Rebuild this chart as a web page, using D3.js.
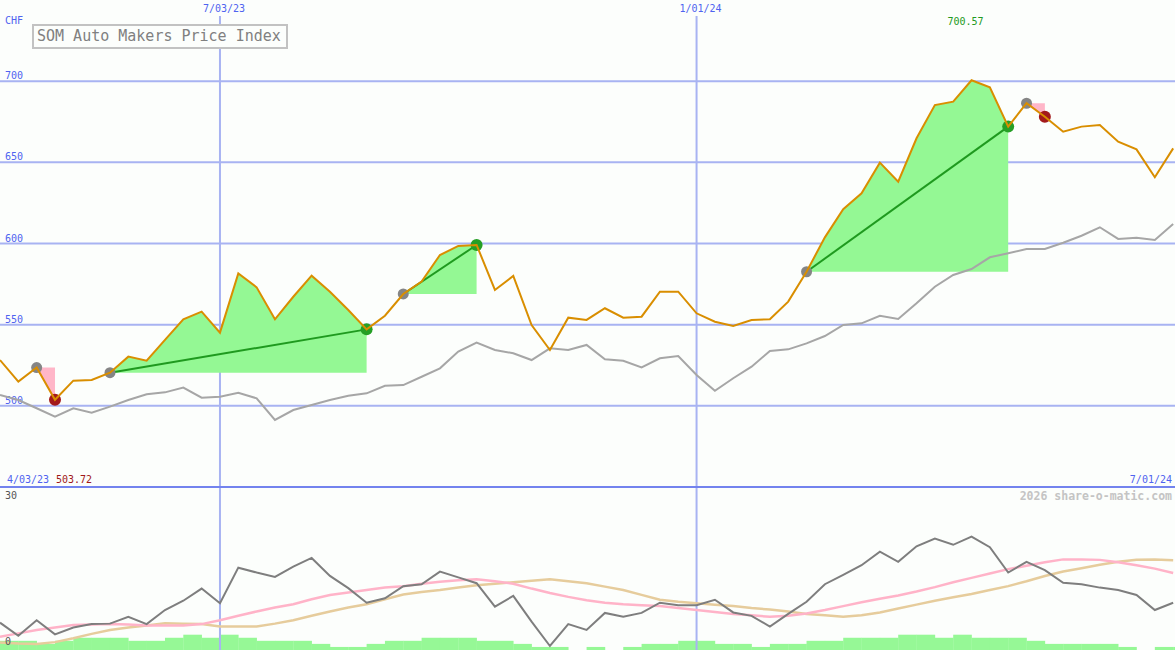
<!DOCTYPE html>
<html>
<head>
<meta charset="utf-8">
<script src="https://cdn.jsdelivr.net/npm/d3@7"></script>
<style>
  html, body { margin: 0; padding: 0; background: #fcfefc; }
  svg { display: block; }
  text { font-family: "DejaVu Sans Mono", "Liberation Mono", monospace; }
</style>
</head>
<body>
<div id="chart"></div>
<script>
// ---------- DATA ----------
const title = "SOM Auto Makers Price Index";
const currency = "CHF";
const startLabel = "4/03/23";
const endLabel = "7/01/24";
const minLabel = "503.72";
const maxLabel = "700.57";
const credit = "2026 share-o-matic.com";

// weekly points (index based)
const price = [528.2, 514.9, 523.6, 503.72, 515.5, 515.9, 520.4, 530.3, 527.8, 540.6,
  553.3, 558.0, 545.1, 581.6, 573.0, 553.3, 567.2, 580.2, 570.3, 559.0,
  547.1, 555.5, 568.9, 576.5, 592.9, 598.5, 599.1, 571.4, 580.0, 549.8,
  534.4, 554.3, 552.9, 560.1, 554.3, 554.9, 570.3, 570.3, 557.0, 551.8,
  549.2, 552.9, 553.3, 564.2, 582.6, 603.8, 621.1, 630.9, 649.8, 638.1,
  664.8, 685.3, 687.4, 700.57, 696.2, 672.0, 686.4, 678.1, 668.9, 672.0,
  673.0, 662.7, 658.0, 640.8, 658.6];

const benchmark = [506.7, 503.6, 498.5, 493.3, 498.5, 495.8, 499.5, 503.6, 507.1, 508.3,
  511.2, 505.0, 505.6, 508.1, 504.6, 491.3, 497.4, 500.5, 503.6, 506.2,
  507.7, 512.4, 512.8, 517.9, 523.1, 533.4, 538.9, 534.4, 532.4, 528.2,
  535.4, 534.4, 537.5, 528.7, 527.8, 523.7, 529.3, 530.7, 519.0, 509.3,
  517.0, 524.1, 533.8, 534.8, 538.5, 543.0, 549.8, 550.8, 555.5, 553.5,
  563.2, 573.4, 580.6, 584.3, 591.5, 594.0, 596.6, 596.6, 600.5, 604.8,
  610.0, 602.8, 603.6, 602.2, 612.0];

const oscillator = [4.9, 2.2, 5.4, 2.5, 3.9, 4.6, 4.7, 6.1, 4.6, 7.5,
  9.4, 11.9, 8.9, 16.2, 15.2, 14.3, 16.4, 18.2, 14.5, 12.0,
  9.0, 9.9, 12.4, 12.8, 15.4, 14.2, 13.0, 8.2, 10.4, 5.1,
  0.1, 4.6, 3.4, 6.9, 6.1, 6.9, 9.0, 8.5, 8.5, 9.6,
  7.0, 6.3, 4.1, 6.7, 9.2, 12.8, 14.7, 16.7, 19.5, 17.4,
  20.6, 22.2, 20.9, 22.6, 20.4, 15.2, 17.4, 15.7, 13.1, 12.8,
  12.1, 11.6, 10.6, 7.5, 9.0];

const oscAvgFast = [2.0, 2.7, 3.4, 3.9, 4.4, 4.5, 4.6, 4.5, 4.3, 4.3,
  4.3, 4.6, 5.4, 6.3, 7.2, 8.0, 8.7, 9.7, 10.6, 11.1,
  11.6, 12.1, 12.4, 12.9, 13.3, 13.6, 13.8, 13.4, 12.9, 11.9,
  11.0, 10.2, 9.5, 9.0, 8.7, 8.5, 8.3, 7.9, 7.5, 7.1,
  6.7, 6.4, 6.1, 6.3, 6.8, 7.5, 8.3, 9.1, 9.8, 10.5,
  11.3, 12.2, 13.2, 14.1, 15.0, 15.9, 16.6, 17.3, 17.9, 17.9,
  17.8, 17.3, 16.7, 16.0, 15.1];

const oscAvgSlow = [0.8, 0.6, 0.5, 0.9, 1.7, 2.6, 3.4, 3.9, 4.3, 4.8,
  4.7, 4.6, 4.1, 4.1, 4.1, 4.7, 5.4, 6.3, 7.2, 8.0,
  8.7, 9.7, 10.7, 11.2, 11.6, 12.1, 12.6, 12.9, 13.2, 13.5,
  13.8, 13.4, 13.0, 12.3, 11.6, 10.6, 9.6, 9.2, 8.9, 8.6,
  8.3, 7.9, 7.6, 7.2, 6.7, 6.4, 6.1, 6.4, 7.0, 7.8,
  8.6, 9.4, 10.1, 10.8, 11.6, 12.4, 13.4, 14.5, 15.4, 16.1,
  16.8, 17.4, 17.8, 17.9, 17.7];

const histogram = [3,3,2,3,4,4,4,3,3,4,
  5,4,5,4,3,3,3,2,1,1,
  2,3,3,4,4,4,3,3,2,1,
  1,0,1,0,1,2,2,3,3,2,
  2,1,2,2,3,3,4,4,4,5,
  5,4,5,4,4,4,3,2,2,2,
  2,1,0,1,1];

// trades: start index, end index, gain?
const tradeStart = [2, 6, 22, 44, 56];
const tradeEnd   = [3, 20, 26, 55, 57];
const tradeGain  = [false, true, true, true, false];

const yTicks = [500, 550, 600, 650, 700];
const xTickIndex = [12, 38];
const xTickLabels = ["7/03/23", "1/01/24"];
const lowTicks = [30, 0];

// ---------- LAYOUT ----------
const W = 1175, H = 650;
const mainBottom = 487;
const maxIdx = price.indexOf(d3.max(price));
const minIdx = price.indexOf(d3.min(price));

const x = d3.scaleLinear().domain([0, 64.1]).range([0, W]);
const y = d3.scaleLinear().domain([450, 750]).range([mainBottom, 0]);
const yLow = d3.scaleLinear().domain([0, 30]).range([646.5, 500.5]);
const yHist = d3.scaleLinear().domain([0, 5]).range([H, H - 15.3]);

const svg = d3.select("#chart").append("svg")
  .attr("width", W).attr("height", H);

svg.append("rect").attr("width", W).attr("height", H).attr("fill", "#fcfefc");

const gridColor = "#a8b3f2";
const axisText = "#4f63f0";

// histogram bars (lowest layer)
svg.append("g").selectAll("rect").data(histogram).join("rect")
  .attr("x", (d, i) => x(i))
  .attr("width", (d, i) => Math.min(x(i + 1), W) - x(i) + 0.3)
  .attr("y", d => yHist(d))
  .attr("height", d => H - yHist(d))
  .attr("fill", "#96f896");

// horizontal grid
svg.append("g").selectAll("line").data(yTicks).join("line")
  .attr("x1", 0).attr("x2", W)
  .attr("y1", d => y(d)).attr("y2", d => y(d))
  .attr("stroke", gridColor).attr("stroke-width", 2);

// vertical grid
svg.append("g").selectAll("line").data(xTickIndex).join("line")
  .attr("x1", d => x(d)).attr("x2", d => x(d))
  .attr("y1", 16).attr("y2", H)
  .attr("stroke", gridColor).attr("stroke-width", 2);

// divider
svg.append("line").attr("x1", 0).attr("x2", W)
  .attr("y1", y(450)).attr("y2", y(450))
  .attr("stroke", "#7383ee").attr("stroke-width", 2);

// y tick labels
svg.append("g").selectAll("text").data(yTicks).join("text")
  .attr("x", 5).attr("y", d => y(d) - 2)
  .attr("font-size", 10).attr("fill", axisText)
  .text(d => d);

svg.append("text").attr("x", 5).attr("y", 24)
  .attr("font-size", 10).attr("fill", axisText).text(currency);

// x tick labels
svg.append("g").selectAll("text").data(xTickIndex).join("text")
  .attr("x", d => x(d) + 4).attr("y", 12)
  .attr("text-anchor", "middle")
  .attr("font-size", 10).attr("fill", axisText)
  .text((d, i) => xTickLabels[i]);

// trade fills
const tradeArea = (s) => d3.area()
  .x(i => x(i))
  .y0(() => y(price[s]))
  .y1(i => y(price[i]));

tradeStart.forEach((s, k) => {
  const e = tradeEnd[k];
  svg.append("path")
    .datum(d3.range(s, e + 1))
    .attr("d", tradeArea(s))
    .attr("fill", tradeGain[k] ? "#94f894" : "#ffb6c8");
});

// benchmark line
svg.append("path").datum(benchmark)
  .attr("d", d3.line().x((d, i) => x(i)).y(d => y(d)))
  .attr("fill", "none").attr("stroke", "#a6a6a6").attr("stroke-width", 2);

// trade lines
tradeStart.forEach((s, k) => {
  if (!tradeGain[k]) return;
  const e = tradeEnd[k];
  svg.append("line")
    .attr("x1", x(s)).attr("y1", y(price[s]))
    .attr("x2", x(e)).attr("y2", y(price[e]))
    .attr("stroke", "#1f9a1f").attr("stroke-width", 2);
});

// markers
tradeStart.forEach((s, k) => {
  const e = tradeEnd[k];
  svg.append("circle").attr("cx", x(s)).attr("cy", y(price[s])).attr("r", 5.5)
    .attr("fill", "#858585");
  svg.append("circle").attr("cx", x(e)).attr("cy", y(price[e])).attr("r", 6)
    .attr("fill", tradeGain[k] ? "#259f25" : "#a3191b");
});

// price line
svg.append("path").datum(price)
  .attr("d", d3.line().x((d, i) => x(i)).y(d => y(d)))
  .attr("fill", "none").attr("stroke", "#d98e00").attr("stroke-width", 2)
  .attr("stroke-linejoin", "miter");

// lower panel lines
const lowLine = d3.line().x((d, i) => x(i)).y(d => yLow(d));
svg.append("path").datum(oscAvgSlow).attr("d", lowLine)
  .attr("fill", "none").attr("stroke", "#e6cc9c").attr("stroke-width", 2.5);
svg.append("path").datum(oscAvgFast).attr("d", lowLine)
  .attr("fill", "none").attr("stroke", "#ffb3c8").attr("stroke-width", 2.5);
svg.append("path").datum(oscillator).attr("d", lowLine)
  .attr("fill", "none").attr("stroke", "#7e7e7e").attr("stroke-width", 2);

// lower tick labels
svg.append("g").selectAll("text").data(lowTicks).join("text")
  .attr("x", 5).attr("y", d => yLow(d) - 2)
  .attr("font-size", 10).attr("fill", "#555555")
  .text(d => d);

// title box
svg.append("rect").attr("x", 33).attr("y", 25).attr("width", 254).attr("height", 23)
  .attr("fill", "#fcfefc").attr("stroke", "#c2c2c2").attr("stroke-width", 2);
svg.append("text").attr("x", 37).attr("y", 41)
  .attr("font-size", 15).attr("fill", "#808080").text(title);

// max label
svg.append("text").attr("x", x(maxIdx) - 6).attr("y", 25)
  .attr("text-anchor", "middle")
  .attr("font-size", 10).attr("fill", "#229922").text(maxLabel);

// range labels
svg.append("text").attr("x", 7).attr("y", 483)
  .attr("font-size", 10).attr("fill", axisText).text(startLabel);
svg.append("text").attr("x", 56).attr("y", 483)
  .attr("font-size", 10).attr("fill", "#a01818").text(minLabel);
svg.append("text").attr("x", 1172).attr("y", 483).attr("text-anchor", "end")
  .attr("font-size", 10).attr("fill", axisText).text(endLabel);
svg.append("text").attr("x", 1172).attr("y", 500).attr("text-anchor", "end")
  .attr("font-size", 11.5).attr("font-weight", "bold").attr("fill", "#c4c4c4").text(credit);
</script>
</body>
</html>
